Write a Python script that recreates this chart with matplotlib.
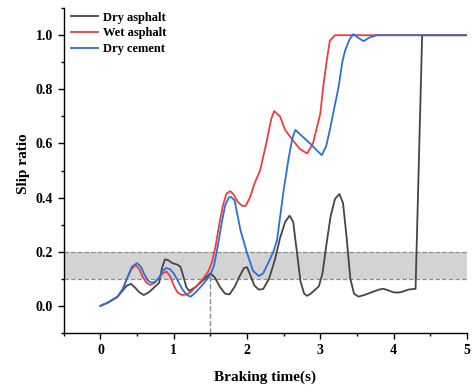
import numpy as np
import matplotlib
matplotlib.use("Agg")
import matplotlib.pyplot as plt

plt.rcParams['font.family'] = ['Liberation Serif', 'DejaVu Serif']
plt.rcParams['font.weight'] = 'bold'

# Dry asphalt
x_dry = [0, 0.1, 0.23, 0.3, 0.36, 0.42, 0.48, 0.53, 0.59, 0.66, 0.74, 0.8, 0.84, 0.88,
         0.93, 0.98, 1.05, 1.09, 1.13, 1.17, 1.21, 1.3, 1.4, 1.5, 1.56, 1.63, 1.7, 1.76,
         1.83, 1.9, 1.96, 2.0, 2.05, 2.1, 2.16, 2.22, 2.3, 2.38, 2.45, 2.52, 2.58, 2.63,
         2.68, 2.73, 2.78, 2.82, 2.87, 2.93, 2.98, 3.03, 3.08, 3.14, 3.2, 3.26, 3.31, 3.36,
         3.41, 3.46, 3.52, 3.6, 3.7, 3.8, 3.86, 3.92, 4.0, 4.06, 4.12, 4.2, 4.3, 4.39, 5.0]
y_dry = [0, 0.012, 0.033, 0.055, 0.075, 0.081, 0.065, 0.05, 0.04, 0.05, 0.07, 0.085, 0.14, 0.172,
         0.168, 0.158, 0.152, 0.145, 0.11, 0.07, 0.055, 0.07, 0.095, 0.12, 0.105, 0.07, 0.045, 0.042,
         0.07, 0.11, 0.14, 0.143, 0.11, 0.075, 0.06, 0.062, 0.1, 0.17, 0.25, 0.31, 0.333, 0.31,
         0.2, 0.09, 0.045, 0.037, 0.045, 0.06, 0.072, 0.12, 0.22, 0.33, 0.395, 0.413, 0.38, 0.25,
         0.1, 0.045, 0.034, 0.04, 0.05, 0.06, 0.063, 0.058, 0.05, 0.049, 0.052, 0.06, 0.063, 1.0, 1.0]

# Wet asphalt
x_wet = [0, 0.1, 0.23, 0.3, 0.36, 0.42, 0.48, 0.53, 0.58, 0.63, 0.68, 0.74, 0.79, 0.85,
         0.9, 0.95, 1.0, 1.05, 1.11, 1.17, 1.23, 1.3, 1.4, 1.47, 1.52, 1.57, 1.62, 1.67,
         1.72, 1.77, 1.82, 1.87, 1.93, 1.98, 2.04, 2.1, 2.18, 2.27, 2.33, 2.37, 2.45, 2.52,
         2.63, 2.72, 2.82, 2.9, 3.0, 3.04, 3.09, 3.13, 3.2, 5.0]
y_wet = [0, 0.012, 0.033, 0.06, 0.1, 0.135, 0.151, 0.135, 0.105, 0.085, 0.077, 0.085, 0.1, 0.12,
         0.127, 0.11, 0.075, 0.05, 0.04, 0.042, 0.05, 0.07, 0.1, 0.127, 0.16, 0.22, 0.3, 0.37,
         0.415, 0.424, 0.41, 0.385, 0.37, 0.369, 0.4, 0.45, 0.502, 0.61, 0.69, 0.72, 0.7, 0.65,
         0.61, 0.58, 0.563, 0.6, 0.71, 0.81, 0.91, 0.98, 1.0, 1.0]

# Dry cement
x_cem = [0, 0.1, 0.23, 0.3, 0.36, 0.43, 0.5, 0.55, 0.6, 0.65, 0.7, 0.75, 0.8, 0.85,
         0.9, 0.95, 1.0, 1.06, 1.12, 1.18, 1.23, 1.3, 1.4, 1.5, 1.55, 1.6, 1.65, 1.7,
         1.75, 1.78, 1.83, 1.91, 2.0, 2.08, 2.16, 2.22, 2.29, 2.36, 2.41, 2.5, 2.57, 2.62,
         2.66, 2.72, 2.8, 2.86, 2.95, 3.02, 3.08, 3.13, 3.19, 3.25, 3.3, 3.34, 3.4, 3.45,
         3.52, 3.59, 3.66, 3.77, 5.0]
y_cem = [0, 0.012, 0.033, 0.06, 0.1, 0.145, 0.158, 0.145, 0.115, 0.093, 0.085, 0.09, 0.105, 0.13,
         0.14, 0.135, 0.12, 0.09, 0.06, 0.04, 0.034, 0.05, 0.08, 0.115, 0.15, 0.22, 0.3, 0.37,
         0.4, 0.403, 0.39, 0.28, 0.195, 0.13, 0.11, 0.12, 0.159, 0.2, 0.244, 0.428, 0.55, 0.62,
         0.65, 0.635, 0.615, 0.6, 0.575, 0.557, 0.59, 0.65, 0.73, 0.81, 0.9, 0.945, 0.985, 1.004,
         0.99, 0.978, 0.99, 1.0, 1.0]

band_low, band_high = 0.1, 0.2
t_mark = 1.5

fig = plt.figure(figsize=(4.73, 3.88), dpi=100)
ax = fig.add_axes([0.135, 0.142, 0.852, 0.837])

ax.axhspan(band_low, band_high, color='#d3d3d3', lw=0, zorder=0)
ax.axhline(band_low, color='#8c8c8c', ls='--', lw=0.9, zorder=1)
ax.axhline(band_high, color='#8c8c8c', ls='--', lw=0.9, zorder=1)
ax.plot([t_mark, t_mark], [-0.1, 0.11], color='#8c8c8c', ls='--', lw=1.0, zorder=1)

ax.plot(x_dry, y_dry, color='#454545', lw=1.3, label='Dry asphalt', zorder=2)
ax.plot(x_wet, y_wet, color='#ee3d3d', lw=1.3, label='Wet asphalt', zorder=3)
ax.plot(x_cem, y_cem, color='#2a6fdb', lw=1.3, label='Dry cement', zorder=4)

ax.set_xlim(-0.5, 5)
ax.set_ylim(-0.1, 1.1)
ax.set_xticks([0, 1, 2, 3, 4, 5])
ax.set_xticks(np.arange(-0.5, 5.01, 0.5), minor=True)
ax.set_yticks([0.0, 0.2, 0.4, 0.6, 0.8, 1.0])
ax.set_yticks(np.arange(-0.1, 1.11, 0.1), minor=True)
ax.set_yticklabels(['0.0', '0.2', '0.4', '0.6', '0.8', '1.0'])
ax.tick_params(which='major', length=4.5, width=1.0, labelsize=10)
ax.tick_params(which='minor', length=2.5, width=1.0)

ax.spines['top'].set_visible(False)
ax.spines['right'].set_visible(False)
ax.spines['left'].set_linewidth(1.0)
ax.spines['bottom'].set_linewidth(1.0)

ax.set_xlabel('Braking time(s)', fontsize=11, fontweight='bold', labelpad=10)
ax.set_ylabel('Slip ratio', fontsize=11, fontweight='bold')
ax.yaxis.set_label_coords(-0.085, 0.52)

ax.legend(loc='upper left', frameon=False, fontsize=9, handlelength=2.2,
          borderaxespad=0.0, labelspacing=0.3, handletextpad=0.35,
          bbox_to_anchor=(0.005, 1.005))

fig.savefig('out.png', dpi=100)
